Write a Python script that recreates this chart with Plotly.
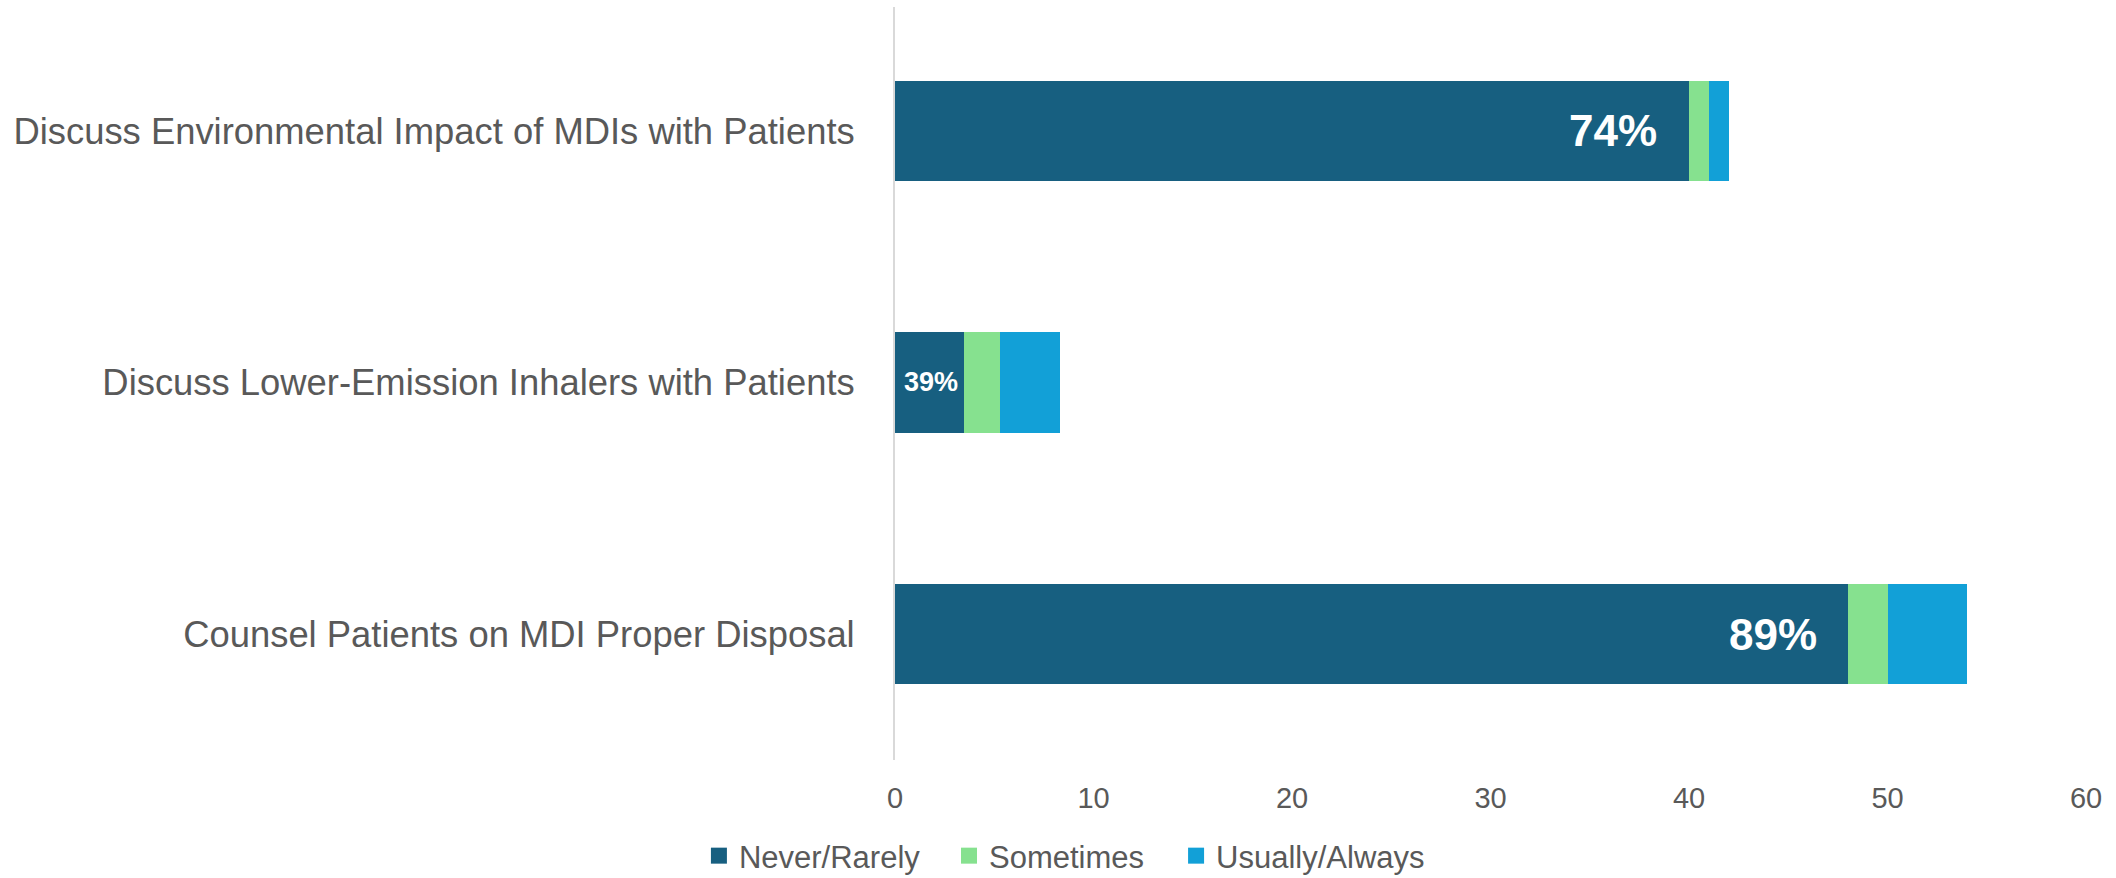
import plotly.graph_objects as go

categories = [
    "Discuss Environmental Impact of MDIs with Patients",
    "Discuss Lower-Emission Inhalers with Patients",
    "Counsel Patients on MDI Proper Disposal",
]
never_rarely = [40, 3.5, 48]
sometimes = [1, 1.8, 2]
usually_always = [1, 3.0, 4]
pct_labels = ["74%", "39%", "89%"]
pct_sizes = [44, 27, 44]
pct_shift = [-30, -4, -29]

series_names = ["Never/Rarely", "Sometimes", "Usually/Always"]
C_DARK = "#175F80"
C_GREEN = "#86E18F"
C_BLUE = "#12A0D7"
colors = [C_DARK, C_GREEN, C_BLUE]
legend_ids = ["legend", "legend2", "legend3"]
legend_x = [0.3303, 0.4485, 0.5558]
GREY = "#595959"
FONT = "Liberation Sans, Arial, sans-serif"

fig = go.Figure()
for name, vals, col in zip(series_names, [never_rarely, sometimes, usually_always], colors):
    fig.add_trace(go.Bar(y=categories, x=vals, orientation="h", name=name,
                         marker=dict(color=col, line=dict(width=0)), showlegend=False))
# legend entries with larger square swatches
for name, col, lid in zip(series_names, colors, legend_ids):
    fig.add_trace(go.Scatter(x=[None], y=[None], mode="markers", name=name,
                             marker=dict(symbol="square", size=16, color=col),
                             showlegend=True, legend=lid))

for cat, v, t, s, sh in zip(categories, never_rarely, pct_labels, pct_sizes, pct_shift):
    fig.add_annotation(x=v, y=cat, xref="x", yref="y", text="<b>%s</b>" % t,
                       showarrow=False, xanchor="right", yanchor="middle", xshift=sh,
                       font=dict(family=FONT, size=s, color="white"))

legend_common = dict(orientation="h", xref="container", yref="paper",
                     xanchor="left", y=-0.1275, yanchor="middle",
                     font=dict(size=31, color=GREY, family=FONT),
                     itemwidth=30, bgcolor="rgba(0,0,0,0)")

fig.update_layout(
    barmode="stack",
    bargap=0.6,
    width=2116, height=878,
    margin=dict(l=894.5, r=30, t=7, b=118, autoexpand=False),
    plot_bgcolor="white", paper_bgcolor="white",
    font=dict(family=FONT, color=GREY),
    showlegend=True,
    legend=dict(x=legend_x[0], **legend_common),
    legend2=dict(x=legend_x[1], **legend_common),
    legend3=dict(x=legend_x[2], **legend_common),
)
fig.update_xaxes(range=[0, 60], tickvals=[0, 10, 20, 30, 40, 50, 60],
                 showgrid=False, zeroline=False, showline=False, automargin=False,
                 tickfont=dict(size=29, color=GREY), ticks="", ticklabelstandoff=18)
fig.update_yaxes(categoryorder="array", categoryarray=categories[::-1],
                 range=[-0.501, 2.493],
                 showgrid=False, zeroline=False, automargin=False,
                 showline=True, linecolor="#D9D9D9", linewidth=2,
                 tickfont=dict(size=36.4, color=GREY), ticks="", ticklabelstandoff=31)

fig.write_html("out.html", config={"displayModeBar": False},
               post_script="document.body.style.margin='0px';")
